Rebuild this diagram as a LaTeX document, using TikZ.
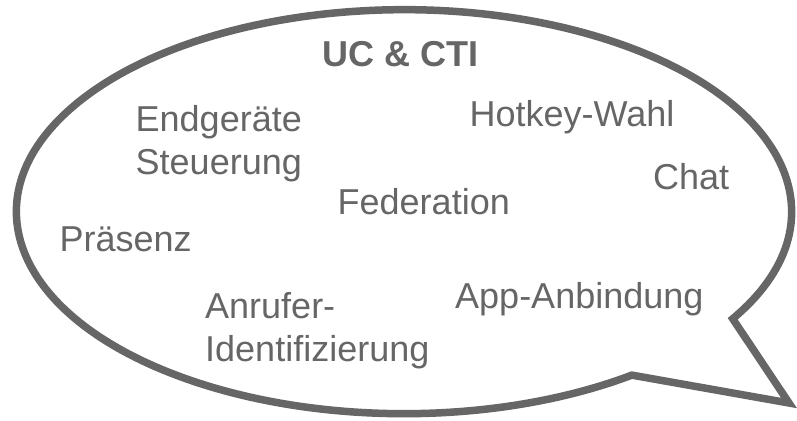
\documentclass[tikz,border=0pt]{standalone}
\usepackage{fontspec}
\setmainfont{Liberation Sans}
\definecolor{bubblegray}{HTML}{666666}
\begin{document}
\begin{tikzpicture}[x=1pt,y=1pt,
  bubble/.style={draw=bubblegray,line width=7.5pt,line join=miter,fill=white},
  lbl/.style={anchor=base west,inner sep=0pt,text=bubblegray,align=left,
    font=\fontsize{36}{43}\selectfont},
  ttl/.style={lbl,font=\fontsize{36}{43}\selectfont\bfseries}]
\useasboundingbox (0,0) rectangle (797,420);
\coordinate (c) at (404,208.3);
\coordinate (tip) at (789,17);
\draw[bubble] (c) ++(-32:387.6 and 202)
  arc[start angle=-32,end angle=306,x radius=387.6,y radius=202]
  -- (tip) -- cycle;
\node[ttl] (title) at (322.5,353) {UC \& CTI};
\node[lbl] (endg) at (135.5,245) {Endgeräte\\Steuerung};
\node[lbl] (hotkey) at (469.5,293) {Hotkey-Wahl};
\node[lbl] (chat) at (653,230) {Chat};
\node[lbl] (fed) at (337.5,205) {Federation};
\node[lbl] (praes) at (59.5,168) {Präsenz};
\node[lbl] (anruf) at (205,58) {Anrufer-\\Identifizierung};
\node[lbl] (app) at (455,111) {App-Anbindung};
\end{tikzpicture}
\end{document}
